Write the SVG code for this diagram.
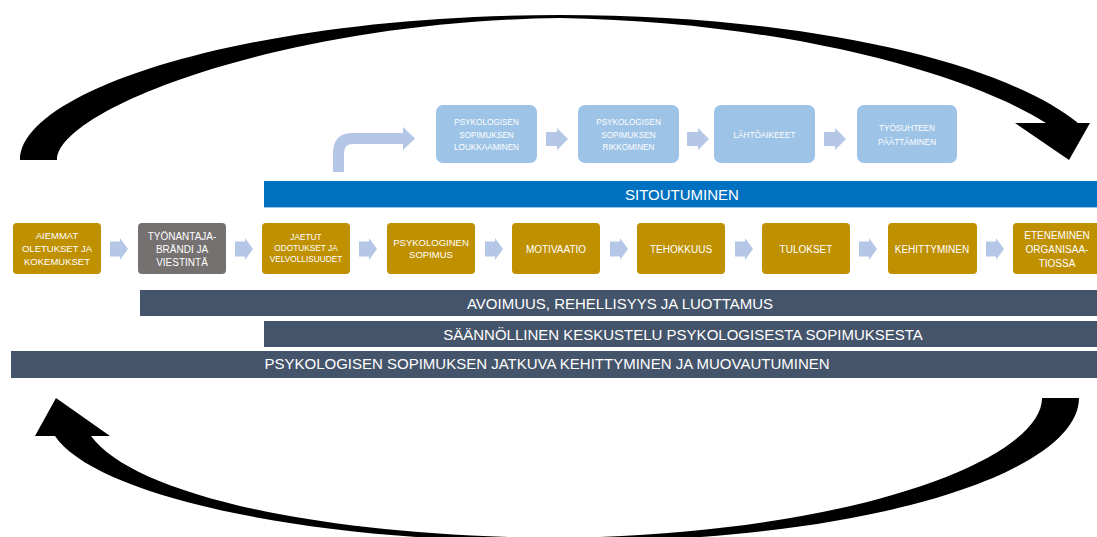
<svg xmlns="http://www.w3.org/2000/svg" width="1097" height="537" viewBox="0 0 1097 537">
<style>
.gold{fill:#BF9000}
.grey{fill:#767171}
.lb{fill:#9DC3E6}
.bar{fill:#44546A}
.blue{fill:#0070C0}
.arr{fill:#B4C7E7}
.big{fill:#000000}
text{font-family:"Liberation Sans",Arial,sans-serif;fill:#FFFFFF;text-anchor:middle}
.t10{font-size:10px}
.t95{font-size:9.5px}
.t83{font-size:8.3px}
.t82{font-size:8.2px}
.t15{font-size:15px}
</style>
<defs>
<path id="ra" d="M0,-7.5 H10 V-11 L18,0 L10,11 V7.5 H0 Z"/>
<path id="ta" d="M0,-7 H11 V-11 L22,0 L11,11 V7 H0 Z"/>
</defs>
<rect width="1097" height="537" fill="#FFFFFF"/>

<g id="connectors">
  <path class="big" d="M20,160 C20,90 250,15 560,15 C800,15 1000,60 1078,123 L1090,123 L1069,160 L1015,123 L1046,123 C970,75 790,22 560,18 C280,22 57,110 57,160 Z"/>
  <path class="big" d="M1079,398 C1079,470 880,542 560,542 C300,542 95,495 55,436 L35,436 L56,398 L110,436 L91,436 C130,490 300,536 560,538 C850,534 1042,460 1042,398 Z"/>
  <path class="arr" d="M333,172 V153 Q333,133 353,133 H403 V127 L415,138.5 L403,150 V144 H353 Q344,144 344,153 V172 Z"/>
  <use href="#ra" class="arr" x="110" y="249"/>
  <use href="#ra" class="arr" x="235" y="249"/>
  <use href="#ra" class="arr" x="359" y="249"/>
  <use href="#ra" class="arr" x="485" y="249"/>
  <use href="#ra" class="arr" x="610" y="249"/>
  <use href="#ra" class="arr" x="735" y="249"/>
  <use href="#ra" class="arr" x="859" y="249"/>
  <use href="#ra" class="arr" x="986" y="249"/>
  <use href="#ta" class="arr" x="546" y="139"/>
  <use href="#ta" class="arr" x="687" y="139"/>
  <use href="#ta" class="arr" x="824" y="139"/>
</g>

<g id="bar-sitoutuminen">
  <rect class="blue" x="264" y="181" width="833" height="26"/>
  <rect class="lb" x="264" y="207" width="833" height="1"/>
  <text class="t15" x="682" y="200.4">SITOUTUMINEN</text>
</g>
<g id="bar-avoimuus">
  <rect class="bar" x="140" y="290" width="957" height="26"/>
  <text class="t15" x="620" y="309.4">AVOIMUUS, REHELLISYYS JA LUOTTAMUS</text>
</g>
<g id="bar-keskustelu">
  <rect class="bar" x="264" y="321" width="833" height="26"/>
  <text class="t15" x="683" y="340.4">SÄÄNNÖLLINEN KESKUSTELU PSYKOLOGISESTA SOPIMUKSESTA</text>
</g>
<g id="bar-kehittyminen">
  <rect class="bar" x="11" y="351" width="1086" height="27"/>
  <text class="t15" x="547" y="369.4">PSYKOLOGISEN SOPIMUKSEN JATKUVA KEHITTYMINEN JA MUOVAUTUMINEN</text>
</g>

<g id="n-aiemmat">
  <rect class="gold" x="13" y="223" width="88" height="51" rx="4"/>
  <text class="t95"><tspan x="57" y="239.4">AIEMMAT</tspan><tspan x="57" y="252.4">OLETUKSET JA</tspan><tspan x="57" y="265.4">KOKEMUKSET</tspan></text>
</g>
<g id="n-tyonantaja">
  <rect class="grey" x="138" y="223" width="88" height="51" rx="4"/>
  <text class="t10"><tspan x="182" y="239.6">TYÖNANTAJA-</tspan><tspan x="182" y="252.6">BRÄNDI JA</tspan><tspan x="182" y="265.6">VIESTINTÄ</tspan></text>
</g>
<g id="n-jaetut">
  <rect class="gold" x="262" y="223" width="88" height="51" rx="4"/>
  <text class="t83"><tspan x="306" y="240">JAETUT</tspan><tspan x="306" y="251">ODOTUKSET JA</tspan><tspan x="306" y="262">VELVOLLISUUDET</tspan></text>
</g>
<g id="n-psykologinen">
  <rect class="gold" x="387" y="223" width="88" height="51" rx="4"/>
  <text class="t95"><tspan x="431" y="246.4">PSYKOLOGINEN</tspan><tspan x="431" y="258.4">SOPIMUS</tspan></text>
</g>
<g id="n-motivaatio">
  <rect class="gold" x="512" y="223" width="88" height="51" rx="4"/>
  <text class="t10" x="556" y="252.6">MOTIVAATIO</text>
</g>
<g id="n-tehokkuus">
  <rect class="gold" x="637" y="223" width="88" height="51" rx="4"/>
  <text class="t10" x="681" y="252.6">TEHOKKUUS</text>
</g>
<g id="n-tulokset">
  <rect class="gold" x="762" y="223" width="88" height="51" rx="4"/>
  <text class="t10" x="806" y="252.6">TULOKSET</text>
</g>
<g id="n-kehittyminen">
  <rect class="gold" x="888" y="223" width="89" height="51" rx="4"/>
  <text class="t10" x="932" y="252.6">KEHITTYMINEN</text>
</g>
<g id="n-eteneminen">
  <rect class="gold" x="1013" y="223" width="90" height="51" rx="4"/>
  <text class="t10"><tspan x="1057" y="238.6">ETENEMINEN</tspan><tspan x="1057" y="252.6">ORGANISAA-</tspan><tspan x="1057" y="266.6">TIOSSA</tspan></text>
</g>

<g id="n-loukkaaminen">
  <rect class="lb" x="436" y="105" width="101" height="58" rx="7"/>
  <text class="t82"><tspan x="486.5" y="125">PSYKOLOGISEN</tspan><tspan x="486.5" y="137.5">SOPIMUKSEN</tspan><tspan x="486.5" y="150">LOUKKAAMINEN</tspan></text>
</g>
<g id="n-rikkominen">
  <rect class="lb" x="578" y="105" width="101" height="58" rx="7"/>
  <text class="t82"><tspan x="628.5" y="125">PSYKOLOGISEN</tspan><tspan x="628.5" y="137.5">SOPIMUKSEN</tspan><tspan x="628.5" y="150">RIKKOMINEN</tspan></text>
</g>
<g id="n-lahtoaikeet">
  <rect class="lb" x="714" y="105" width="101" height="58" rx="7"/>
  <text class="t82" x="764.5" y="138">LÄHTÖAIKEEET</text>
</g>
<g id="n-paattaminen">
  <rect class="lb" x="857" y="105" width="100" height="58" rx="7"/>
  <text class="t82"><tspan x="907" y="131">TYÖSUHTEEN</tspan><tspan x="907" y="145">PÄÄTTÄMINEN</tspan></text>
</g>
</svg>
